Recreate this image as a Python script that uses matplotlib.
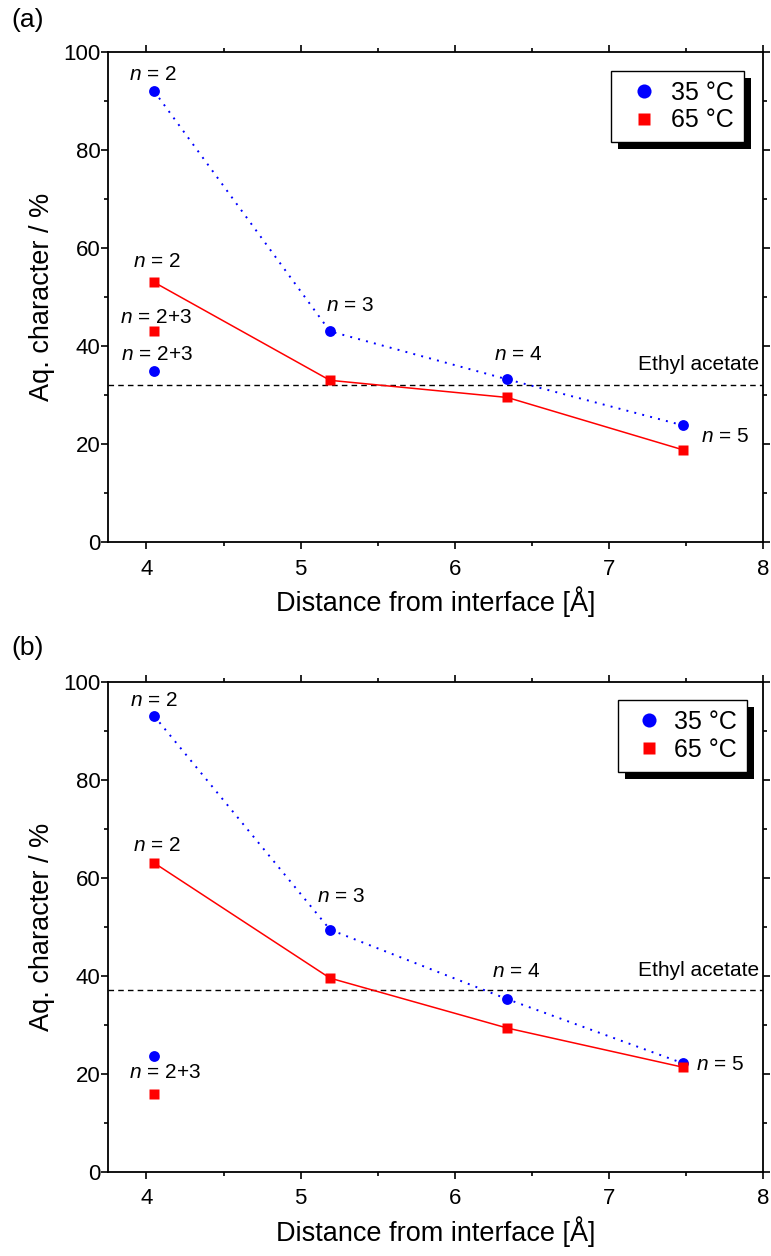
import numpy as np
import matplotlib
matplotlib.use("Agg")
import matplotlib.pyplot as plt
from matplotlib.patches import Rectangle

plt.rcParams['font.family'] = ['Liberation Sans', 'DejaVu Sans']
plt.rcParams['mathtext.fontset'] = 'custom'
plt.rcParams['mathtext.rm'] = 'Liberation Sans'
plt.rcParams['mathtext.it'] = 'Liberation Sans:italic'

# data
dist = [4.05, 5.19, 6.34, 7.48]
x_mix = 4.05

a_35 = [92, 43, 33.2, 23.8]
a_65 = [53, 33, 29.5, 18.8]
a_35_mix = 35
a_65_mix = 43
a_ethyl = 32

b_35 = [93, 49.4, 35.2, 22.1]
b_65 = [63, 39.5, 29.3, 21.3]
b_35_mix = 23.5
b_65_mix = 15.8
b_ethyl = 37

# label text, position (x, y)
a_labels = [("$n$ = 2", 4.04, 95.5), ("$n$ = 2", 4.07, 57.2),
            ("$n$ = 2+3", 4.06, 45.8), ("$n$ = 2+3", 4.07, 38.2),
            ("$n$ = 3", 5.32, 48.3), ("$n$ = 4", 6.41, 38.2),
            ("$n$ = 5", 7.75, 21.6)]
b_labels = [("$n$ = 2", 4.05, 96.2), ("$n$ = 2", 4.07, 66.5),
            ("$n$ = 2+3", 4.12, 20.3),
            ("$n$ = 3", 5.26, 56.2), ("$n$ = 4", 6.40, 40.9),
            ("$n$ = 5", 7.72, 21.8)]

fig = plt.figure(figsize=(7.71, 12.56), dpi=100)
ax_a = fig.add_axes([0.140, 0.5685, 0.850, 0.390])
ax_b = fig.add_axes([0.140, 0.0672, 0.850, 0.390])


def draw_panel(ax, y35, y65, y35m, y65m, ethyl, labels, ethyl_y,
               leg_anchor, hlen):
    ax.axhline(ethyl, color='k', ls=(0, (4, 3)), lw=1.0, zorder=1)
    ax.plot(dist, y35, color='blue', ls=(0, (1, 3.2)), lw=1.4, zorder=2)
    ax.plot(dist, y65, color='red', ls='-', lw=1.1, zorder=2)
    ax.plot(dist + [x_mix], y35 + [y35m], 'o', color='blue', ms=7.8, mec='none',
            zorder=3, label='35 °C')
    ax.plot(dist + [x_mix], y65 + [y65m], 's', color='red', ms=6.8, mec='none',
            zorder=3, label='65 °C')
    for txt, lx, ly in labels:
        ax.text(lx, ly, txt, fontsize=15, ha='center', va='center')
    ax.text(7.97, ethyl_y, 'Ethyl acetate', fontsize=15, ha='right', va='center')

    ax.set_xlim(3.75, 8)
    ax.set_ylim(0, 100)
    ax.set_xticks([4, 5, 6, 7, 8])
    ax.set_xticks(np.arange(4.5, 8, 1.0), minor=True)
    ax.set_yticks([0, 20, 40, 60, 80, 100])
    ax.set_yticks(np.arange(10, 100, 20), minor=True)
    ax.tick_params(which='major', direction='out', length=5, width=1.2,
                   labelsize=16)
    ax.tick_params(which='minor', direction='out', length=3, width=1.2)
    ax.tick_params(axis='x', which='major', pad=7)
    ax.tick_params(axis='y', which='major', pad=0.5)
    ax.tick_params(which='both', top=True, right=True)
    for s in ax.spines.values():
        s.set_linewidth(1.3)
    ax.set_xlabel('Distance from interface [Å]', fontsize=19.5, labelpad=5)
    ax.set_ylabel('Aq. character / %', fontsize=19.5, labelpad=6)

    leg = ax.legend(loc='upper right', bbox_to_anchor=leg_anchor, fontsize=18,
                    frameon=True, fancybox=False, edgecolor='k', framealpha=1,
                    facecolor='white', handletextpad=0.15, labelspacing=0.15,
                    borderpad=0.4, handlelength=hlen, borderaxespad=0,
                    numpoints=1, markerscale=1.3)
    leg.get_frame().set_linewidth(1.0)
    leg.set_zorder(6)
    return leg


leg_a = draw_panel(ax_a, a_35, a_65, a_35_mix, a_65_mix, a_ethyl, a_labels,
                   36.2, (0.970, 0.962), 1.85)
leg_b = draw_panel(ax_b, b_35, b_65, b_35_mix, b_65_mix, b_ethyl, b_labels,
                   41.0, (0.975, 0.963), 1.7)

fig.text(0.015, 0.984, '(a)', fontsize=19, ha='left', va='center')
fig.text(0.015, 0.484, '(b)', fontsize=19, ha='left', va='center')

# black drop shadow behind the legends
fig.canvas.draw()
for ax, leg in [(ax_a, leg_a), (ax_b, leg_b)]:
    bb = leg.get_window_extent()
    shadow = Rectangle((bb.x0 + 7, bb.y0 - 7), bb.width, bb.height,
                       facecolor='k', edgecolor='none', transform=None,
                       clip_on=False, zorder=5.5)
    ax.add_artist(shadow)

fig.savefig('out.png', dpi=100)
